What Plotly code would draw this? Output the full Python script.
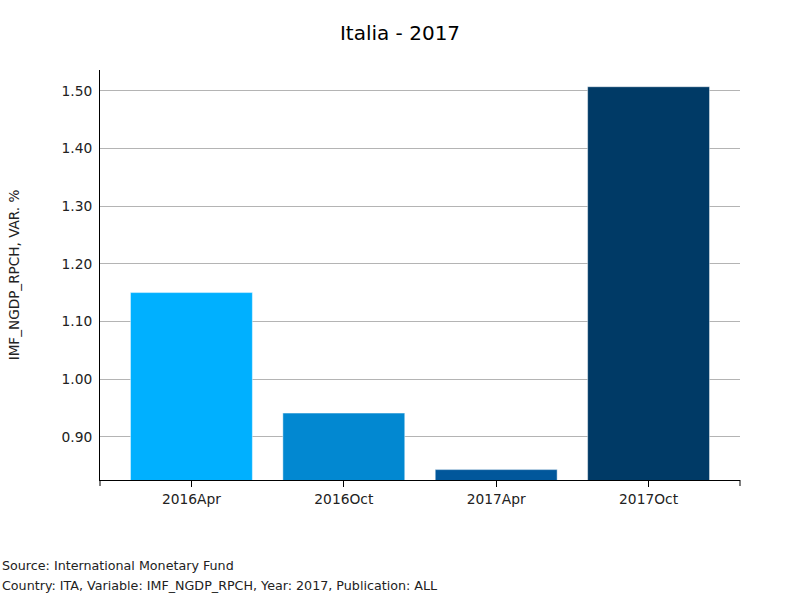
import plotly.graph_objects as go

categories = ["2016Apr", "2016Oct", "2017Apr", "2017Oct"]
values = [1.15, 0.941, 0.843, 1.507]
colors = ["#00B0FF", "#0288D1", "#01579B", "#003A66"]
y_ticks = [0.90, 1.00, 1.10, 1.20, 1.30, 1.40, 1.50]

FONT = "DejaVu Sans"
TXT = "#222"

fig = go.Figure()
fig.add_trace(go.Bar(
    x=categories, y=values, width=0.8,
    marker=dict(color=colors, line=dict(color="rgba(255,255,255,0.45)", width=1)),
    hoverinfo="x+y",
))

fig.update_layout(
    width=800, height=600,
    margin=dict(l=100, r=60, t=70, b=120),
    paper_bgcolor="white", plot_bgcolor="white",
    font=dict(family=FONT, size=13.6, color=TXT),
    title=dict(text="Italia - 2017", x=0.5, xanchor="center", y=0.945, yanchor="middle",
               font=dict(family=FONT, size=20, color="black")),
    showlegend=False,
)
fig.update_xaxes(
    range=[-0.6, 3.6], showline=True, linecolor="black", linewidth=1,
    ticks="outside", ticklen=6, tickcolor="black", showgrid=False,
    tickfont=dict(family=FONT, size=13.8, color=TXT),
)
fig.update_yaxes(
    range=[0.825, 1.536], tickvals=y_ticks, tickformat=".2f",
    showline=True, linecolor="black", linewidth=1,
    showgrid=True, gridcolor="#b4b4b4", gridwidth=1, zeroline=False,
    ticks="", ticklabelstandoff=4,
    title=dict(text="IMF_NGDP_RPCH, VAR. %", font=dict(family=FONT, size=13.6, color=TXT), standoff=38),
    tickfont=dict(family=FONT, size=13.8, color=TXT),
)
# end ticks on x axis
for xp in (0, 1):
    fig.add_shape(type="line", xref="paper", yref="paper", x0=xp, x1=xp, y0=0, y1=-6/410,
                  line=dict(color="black", width=1))
fig.add_annotation(text="Source: International Monetary Fund", xref="paper", yref="paper",
                   x=-100/640, y=-85/410, xanchor="left", yanchor="middle", showarrow=False,
                   font=dict(family=FONT, size=12.7, color=TXT))
fig.add_annotation(text="Country: ITA, Variable: IMF_NGDP_RPCH, Year: 2017, Publication: ALL",
                   xref="paper", yref="paper",
                   x=-100/640, y=-105/410, xanchor="left", yanchor="middle", showarrow=False,
                   font=dict(family=FONT, size=12.7, color=TXT))

fig.write_html("out.html")
